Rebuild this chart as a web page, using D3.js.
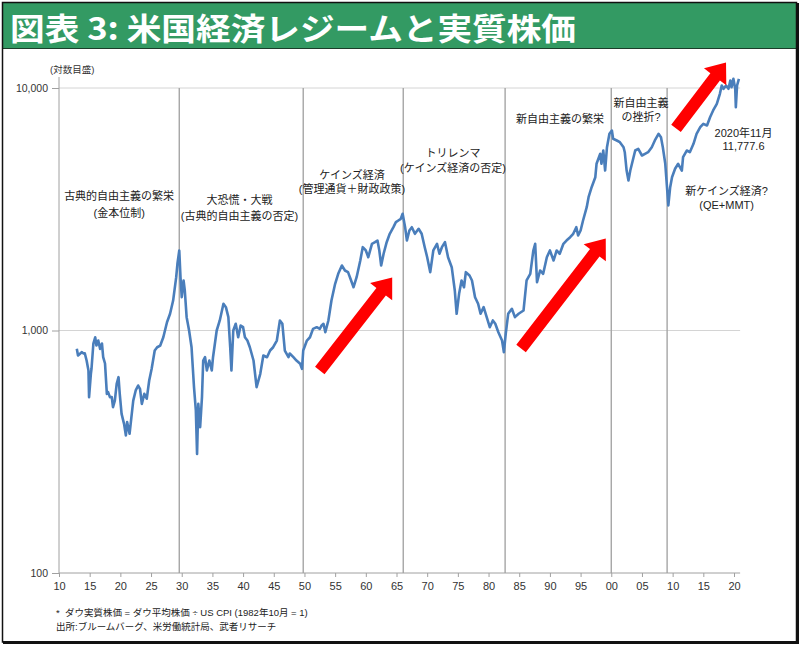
<!DOCTYPE html>
<html><head><meta charset="utf-8">
<script src="https://cdn.jsdelivr.net/npm/d3@7"></script>
<style>body{margin:0;background:#fff;} svg{display:block;} text{white-space:pre;}</style>
</head><body>
<svg id="chart" width="804" height="648"></svg>
<script>
// ---------------- data ----------------
const titleText = "図表 3: 米国経済レジームと実質株価";
const yAxisNote = "(対数目盛)";
const xTickYears = d3.range(1910, 2021, 5);
const xTickLabels = ["10","15","20","25","30","35","40","45","50","55","60","65","70","75","80","85","90","95","00","05","10","15","20"];
const yTickValues = [100, 1000, 10000];
const yTickLabels = ["100", "1,000", "10,000"];
const regimeBreaks = [1929.6, 1949.8, 1966.1, 1982.7, 2000.0, 2009.1];

// Real Dow (Dow / US CPI, 1982-10 = 1) : [year, value]
const dow1913to1947 = [[1912.9,840],[1913.1,789],[1913.7,814],[1914.0,804],[1914.2,806],[1914.5,752],[1914.8,684],[1914.9,531],[1915.2,665],[1915.3,697],[1915.6,882],[1915.9,938],[1916.1,867],[1916.4,909],[1916.7,840],[1917.0,884],[1917.2,776],[1917.5,731],[1917.8,548],[1918.0,557],[1918.3,531],[1918.6,531],[1918.8,483],[1919.1,514],[1919.4,603],[1919.7,642],[1919.9,548],[1920.2,453],[1920.6,412],[1920.9,369],[1921.1,419],[1921.5,375],[1921.8,439],[1922.1,514],[1922.5,566],[1922.9,593],[1923.2,575],[1923.5,498],[1923.9,548],[1924.3,523],[1924.7,622],[1925.1,695],[1925.6,827],[1926.0,853],[1926.5,867],[1927.0,938],[1927.6,1082],[1928.1,1172],[1928.6,1329],[1929.1,1659],[1929.3,1884],[1929.6,2138],[1929.8,1659],[1930.0,1372],[1930.3,1608],[1930.5,1462],[1930.8,1135],[1931.2,1000],[1931.6,853],[1932.0,584],[1932.3,468],[1932.5,310],[1932.7,498],[1933.0,399],[1933.3,531],[1933.5,752],[1933.8,776],[1934.1,684],[1934.5,752],[1934.9,684],[1935.1,776],[1935.7,1000],[1936.2,1100],[1936.8,1289],[1937.2,1248],[1937.6,1135],[1937.9,853],[1938.1,684],[1938.4,1000],[1938.8,1066],[1939.2,938],[1939.6,1049],[1940.0,1032],[1940.3,938],[1940.7,909],[1941.1,853],[1941.7,752],[1942.2,584],[1942.8,663],[1943.3,789],[1943.9,776],[1944.4,827],[1944.9,853],[1945.5,909],[1946.0,1100],[1946.4,1066],[1946.8,827],[1947.4,776]];
const dow1947to1985 = [[1947.6,804],[1948.2,776],[1948.7,752],[1949.3,729],[1949.6,695],[1949.8,827],[1950.4,909],[1950.9,938],[1951.4,1016],[1952.0,1032],[1952.5,1016],[1952.8,1049],[1953.1,1066],[1953.4,984],[1953.9,1100],[1954.4,1329],[1955.0,1558],[1955.5,1713],[1956.1,1854],[1956.6,1768],[1957.1,1740],[1957.5,1634],[1958.0,1508],[1958.5,1659],[1959.1,1944],[1959.5,2206],[1960.0,2138],[1960.4,2006],[1961.0,2278],[1961.5,2313],[1961.9,2350],[1962.2,2138],[1962.5,1854],[1962.9,2072],[1963.4,2313],[1963.9,2505],[1964.5,2667],[1964.9,2797],[1965.3,2842],[1965.7,2888],[1966.0,3029],[1966.4,2667],[1966.7,2350],[1967.1,2585],[1967.5,2667],[1968.0,2505],[1968.6,2627],[1969.1,2505],[1969.6,2206],[1970.0,2006],[1970.5,1740],[1971.0,2138],[1971.6,2278],[1972.0,2072],[1972.4,2206],[1972.9,2313],[1973.4,2006],[1974.0,1824],[1974.5,1462],[1974.8,1172],[1975.2,1417],[1975.6,1608],[1976.0,1508],[1976.3,1740],[1976.9,1686],[1977.3,1608],[1977.8,1372],[1978.3,1289],[1978.7,1172],[1979.2,1248],[1979.7,1135],[1980.2,1032],[1980.7,1100],[1981.1,1066],[1981.6,984],[1982.2,909],[1982.5,814],[1982.8,969],[1983.2,1172],[1983.8,1229],[1984.3,1135],[1984.9,1172]];
const dow1985to2020 = [[1985.7,1209],[1986.2,1608],[1986.8,1713],[1987.3,2138],[1987.6,2278],[1987.9,1582],[1988.4,1768],[1988.9,1713],[1989.5,2006],[1990.0,2138],[1990.6,1944],[1991.1,2138],[1991.6,2072],[1992.2,2278],[1992.7,2350],[1993.3,2425],[1993.8,2505],[1994.3,2667],[1994.6,2465],[1995.0,2585],[1995.4,2842],[1996.0,3225],[1996.3,3545],[1996.8,3898],[1997.4,4287],[1997.6,4869],[1998.2,5354],[1998.4,4869],[1998.7,5524],[1999.0,4568],[1999.3,5700],[1999.7,6474],[2000.1,6678],[2000.3,6173],[2000.9,6075],[2001.4,5977],[2002.0,5700],[2002.2,5436],[2002.5,4568],[2002.8,4155],[2003.1,4568],[2003.5,5023],[2003.9,5524],[2004.4,5614],[2005.0,5268],[2005.5,5354],[2006.0,5436],[2006.6,5700],[2007.1,6075],[2007.7,6474],[2008.1,6268],[2008.4,5700],[2008.8,4869],[2009.0,4155],[2009.3,3278],[2009.6,3898],[2009.9,4287],[2010.4,4643],[2010.9,4869],[2011.5,4568],[2011.7,5184],[2012.3,5524],[2012.8,5436],[2013.4,5887],[2013.9,6474],[2014.5,6891],[2015.0,7117],[2015.6,7004],[2016.1,7580],[2016.6,8078],[2017.2,8604],[2017.7,9465],[2018.0,10240],[2018.3,9924],[2018.7,10240],[2019.1,9924],[2019.4,10740],[2019.6,10080],[2019.9,10910],[2020.2,9924],[2020.3,8334],[2020.5,10240],[2020.8,10910]];

// regime annotations: each text line anchored at (year, value)
const regimeNotes = [
  {text:"古典的自由主義の繁栄", year:1919.8, value:3603},
  {text:"(金本位制)", year:1919.8, value:3051},
  {text:"大恐慌・大戦", year:1939.4, value:3452},
  {text:"(古典的自由主義の否定)", year:1939.4, value:2966},
  {text:"ケインズ経済", year:1957.75, value:4398},
  {text:"(管理通貨＋財政政策)", year:1957.75, value:3815},
  {text:"トリレンマ", year:1974.2, value:5384},
  {text:"(ケインズ経済の否定)", year:1974.2, value:4700},
  {text:"新自由主義の繁栄", year:1991.65, value:7484},
  {text:"新自由主義", year:2004.85, value:8656},
  {text:"の挫折?", year:2004.85, value:7578},
  {text:"2020年11月", year:2021.55, value:6493},
  {text:"11,777.6", year:2021.55, value:5754},
  {text:"新ケインズ経済?", year:2018.8, value:3743},
  {text:"(QE+MMT)", year:2018.8, value:3307}
];
// red arrows: tail (year, value) -> tip (year, value)
const arrowsData = [
  {y0:1952.5, v0:684, y1:1964.3, v1:1654},
  {y0:1985.3, v0:843, y1:1999.1, v1:2395},
  {y0:2010.55, v0:6808, y1:2018.7, v1:12743}
];
const footnotes = [
  "*  ダウ実質株価 = ダウ平均株価 ÷ US CPI (1982年10月 = 1)",
  "出所:ブルームバーグ、米労働統計局、武者リサーチ"
];

// ---------------- drawing ----------------
const svg = d3.select("#chart");
const FONT = "'Liberation Sans', Arial, 'Noto Sans CJK JP', sans-serif";

svg.append("rect").attr("width",804).attr("height",648).attr("fill","#fff");

// title band
svg.append("rect").attr("x",3).attr("y",3).attr("width",793).attr("height",45).attr("fill","#339a63");
svg.append("line").attr("x1",3).attr("x2",796).attr("y1",48.5).attr("y2",48.5).attr("stroke","#1b3d2a").attr("stroke-width",1.2);
svg.append("text").text(titleText)
  .attr("x",10).attr("y",40)
  .attr("textLength",566).attr("lengthAdjust","spacingAndGlyphs")
  .attr("fill","#fff").attr("font-weight","bold").attr("font-size",31)
  .attr("font-family","'Liberation Sans Narrow', 'Noto Sans CJK JP', sans-serif");

// frame
svg.append("rect").attr("x",2.5).attr("y",2.5).attr("width",794).attr("height",639.5)
  .attr("fill","none").attr("stroke","#111").attr("stroke-width",1.5);
svg.append("line").attr("x1",797.5).attr("x2",797.5).attr("y1",3).attr("y2",644).attr("stroke","#111").attr("stroke-width",3);
svg.append("line").attr("x1",3).attr("x2",799).attr("y1",642.5).attr("y2",642.5).attr("stroke","#111").attr("stroke-width",3);

// scales
const x = d3.scaleLinear().domain([1910, 2020]).range([59, 734]);
const y = d3.scaleLog().domain([100, 10000]).range([573, 88]);

const plot = svg.append("g");

// horizontal gridlines
plot.selectAll(".hgrid").data(yTickValues.slice(1)).join("line")
  .attr("x1", x(1910)).attr("x2", x(2021))
  .attr("y1", d => y(d)).attr("y2", d => y(d))
  .attr("stroke","#d4d4d4").attr("stroke-width",1);

// regime separators
plot.selectAll(".vsep").data(regimeBreaks).join("line")
  .attr("x1", d => x(d)).attr("x2", d => x(d))
  .attr("y1", y(10000)).attr("y2", y(100))
  .attr("stroke","#a6a6a6").attr("stroke-width",1.4);

// x axis
const xAxis = d3.axisBottom(x).tickValues(xTickYears)
  .tickFormat((d,i) => xTickLabels[i]).tickSize(4).tickPadding(5);
const gx = svg.append("g").attr("transform",`translate(0,${y(100)})`).call(xAxis);
gx.select(".domain").attr("d", `M${x(1910)},0H${x(2021)}`).attr("stroke","#a0a0a0");
gx.selectAll(".tick line").attr("stroke","#a0a0a0");
gx.selectAll("text").attr("font-size",11).attr("font-family",FONT).attr("fill","#333");

// y axis
const yAxis = d3.axisLeft(y).tickValues(yTickValues)
  .tickFormat((d,i) => yTickLabels[i]).tickSize(7).tickPadding(4);
const gy = svg.append("g").attr("transform",`translate(${x(1910)},0)`).call(yAxis);
gy.select(".domain").attr("d", `M0,77V${y(100)}`).attr("stroke","#a0a0a0");
gy.selectAll(".tick line").attr("stroke","#a0a0a0");
gy.selectAll("text").attr("font-size",10.5).attr("font-family",FONT).attr("fill","#333");

svg.append("text").text(yAxisNote).attr("x",50).attr("y",69)
  .attr("dominant-baseline","central")
  .attr("font-size",9.5).attr("font-family",FONT).attr("fill","#333");

// line
const realDow = dow1913to1947.concat(dow1947to1985, dow1985to2020);
const line = d3.line().x(d => x(d[0])).y(d => y(d[1]));
plot.append("path").datum(realDow).attr("d", line)
  .attr("fill","none").attr("stroke","#4a7ebb").attr("stroke-width",2.6)
  .attr("stroke-linejoin","round");

// annotations
plot.selectAll(".note").data(regimeNotes).join("text")
  .text(d => d.text)
  .attr("x", d => x(d.year)).attr("y", d => y(d.value))
  .attr("text-anchor","middle").attr("dominant-baseline","central")
  .attr("font-size",11).attr("font-family",FONT).attr("fill","#222");

// arrows
function arrowPoints(a){
  const x0=x(a.y0), y0=y(a.v0), x1=x(a.y1), y1=y(a.v1);
  const dx=x1-x0, dy=y1-y0, L=Math.hypot(dx,dy), ux=dx/L, uy=dy/L, px=-uy, py=ux;
  const sw=12, hw=28, hl=18;
  const bx=x1-ux*hl, by=y1-uy*hl;
  return [[x0+px*sw/2,y0+py*sw/2],[bx+px*sw/2,by+py*sw/2],[bx+px*hw/2,by+py*hw/2],[x1,y1],
          [bx-px*hw/2,by-py*hw/2],[bx-px*sw/2,by-py*sw/2],[x0-px*sw/2,y0-py*sw/2]]
          .map(p=>p.join(",")).join(" ");
}
plot.selectAll(".arrow").data(arrowsData).join("polygon")
  .attr("points", arrowPoints).attr("fill","#ff0000");

// footnotes
svg.selectAll(".foot").data(footnotes).join("text")
  .text(d => d).attr("x",56).attr("y",(d,i) => 612 + i*14)
  .attr("dominant-baseline","central")
  .attr("font-size",9.5).attr("font-family",FONT).attr("fill","#222");
</script>
</body></html>
